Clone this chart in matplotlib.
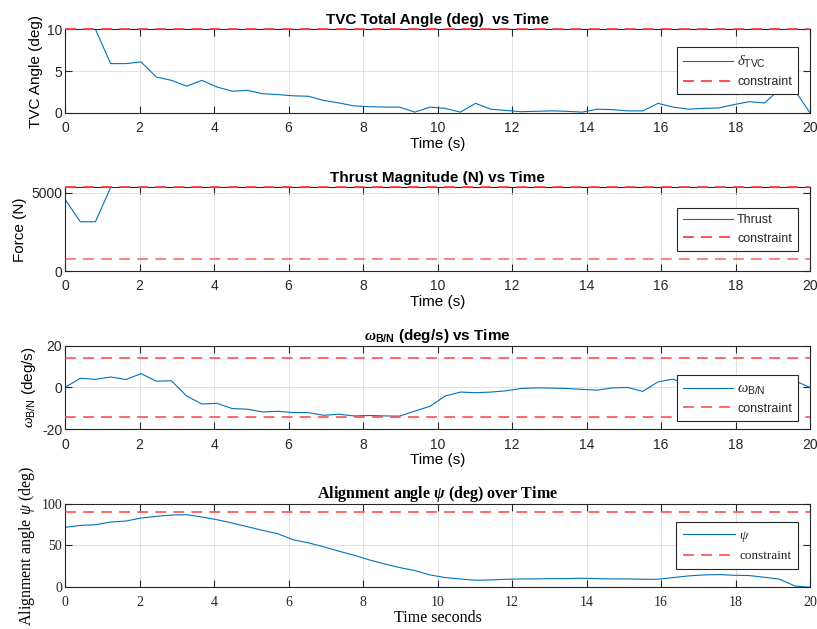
import numpy as np
import matplotlib
matplotlib.use('Agg')
from matplotlib import pyplot as plt

# time grid: 50 nodes over 20 s
t = np.linspace(0, 20, 50)

tvc_angle = [10, 10, 10, 5.9, 5.9, 6.1, 4.3, 3.9, 3.2, 3.9,
             3.1, 2.6, 2.7, 2.3, 2.2, 2.05, 2.0, 1.5, 1.2, 0.85,
             0.75, 0.7, 0.7, 0.1, 0.7, 0.55, 0.1, 1.15, 0.45, 0.3,
             0.15, 0.2, 0.25, 0.2, 0.1, 0.45, 0.4, 0.25, 0.25, 1.15,
             0.7, 0.45, 0.55, 0.6, 1.0, 1.35, 1.2, 2.8, 2.7, 0.0]
tvc_max = 10

thrust_max = 5340
thrust_min = 780
thrust = [4580, 3150, 3150] + [thrust_max] * 47

omega = [0.0, 4.4, 3.9, 5.0, 3.8, 6.6, 3.0, 3.2, -4.1, -7.9,
         -7.6, -10.1, -10.4, -11.7, -11.4, -12.0, -12.0, -13.3, -12.8, -13.6,
         -13.4, -13.6, -13.7, -11.3, -9.0, -4.1, -2.2, -2.5, -2.2, -1.6,
         -0.5, -0.2, -0.3, -0.5, -0.9, -1.3, -0.2, 0.0, -1.9, 2.7,
         4.0, 0.8, 1.5, 2.0, 2.5, 3.0, 3.5, 3.8, 3.2, 0.0]
omega_max = 14

psi = [71.6, 74.0, 74.8, 78.0, 79.2, 82.8, 84.8, 86.4, 86.8, 84.0,
       80.8, 76.8, 72.4, 68.0, 64.0, 56.8, 53.2, 48.4, 43.2, 38.4,
       32.8, 28.0, 23.6, 20.0, 14.8, 11.6, 10.0, 8.4, 8.8, 9.6,
       10.0, 10.0, 10.4, 10.4, 10.8, 10.4, 10.0, 10.0, 9.6, 9.6,
       11.6, 13.6, 14.8, 15.2, 14.4, 14.0, 12.0, 9.6, 1.6, 0.0]
psi_max = 89.5

# MATLAB-ish look
DARK = '#262626'
BLUE = '#0072BD'
RED = '#ff4040'
plt.rcParams.update({
    'font.family': 'Liberation Sans',
    'mathtext.fontset': 'custom',
    'mathtext.rm': 'Liberation Sans',
    'mathtext.sf': 'Liberation Sans',
    'mathtext.it': 'Liberation Serif:italic',
    'mathtext.bf': 'Liberation Sans:bold',
    'mathtext.bfit': 'Liberation Serif:italic:bold',
    'axes.unicode_minus': False,
    'axes.edgecolor': DARK,
    'axes.linewidth': 0.8,
    'xtick.color': DARK,
    'ytick.color': DARK,
    'text.color': DARK,
})

fig = plt.figure(figsize=(8.17, 6.29), dpi=100)
left, width, height = 0.0796, 0.9119, 0.133
bottoms = [0.8204, 0.5690, 0.3175, 0.0663]
axes = [fig.add_axes([left, b, width, height]) for b in bottoms]


def style(ax, ylim, yticks, serif=False):
    ax.set_xlim(0, 20)
    ax.set_ylim(*ylim)
    ax.set_xticks(np.arange(0, 21, 2))
    ax.set_yticks(yticks)
    ax.grid(True, color='#dcdcdc', linewidth=0.6)
    ax.set_axisbelow(True)
    ax.tick_params(direction='in', length=5, width=0.8, top=True, right=True,
                   labelsize=10)
    ax.tick_params(axis='x', pad=6)
    ax.tick_params(axis='y', pad=2)
    if serif:
        for lab in ax.get_xticklabels() + ax.get_yticklabels():
            lab.set_family('Liberation Serif')


def add_legend(ax, y, serif=False):
    kw = dict(loc='center right', bbox_to_anchor=(0.984, y), fancybox=False,
              framealpha=1, edgecolor=DARK, handlelength=4.0, borderaxespad=0,
              handletextpad=0.3, borderpad=0.5, labelspacing=0.5)
    if serif:
        kw['prop'] = {'family': 'Liberation Serif', 'size': 9.5}
    else:
        kw['fontsize'] = 9
    leg = ax.legend(**kw)
    leg.get_frame().set_linewidth(0.8)
    return leg


# TVC angle
ax = axes[0]
style(ax, (0, 10), [0, 5, 10])
ax.plot(t, tvc_angle, color=BLUE, lw=0.8, label=r'$\delta_{\mathrm{TVC}}$')
ax.axhline(tvc_max, color=RED, ls='--', dashes=(6, 4), lw=1.3, clip_on=False,
           zorder=3, label='constraint')
ax.set_title('TVC Total Angle (deg)  vs Time', fontsize=11, fontweight='bold',
             color='black', pad=4)
ax.set_xlabel('Time (s)', fontsize=11, labelpad=1)
ax.set_ylabel('TVC Angle (deg)', fontsize=11, labelpad=3)
leg = add_legend(ax, 0.503)
leg.get_texts()[0].set_fontsize(10.5)

# Thrust
ax = axes[1]
style(ax, (0, thrust_max), [0, 5000])
ax.plot(t, thrust, color=BLUE, lw=0.8, label='Thrust')
ax.axhline(thrust_max, color=RED, ls='--', dashes=(6, 4), lw=1.3, clip_on=False,
           zorder=3, label='constraint')
ax.axhline(thrust_min, color=RED, ls='--', dashes=(6, 4), lw=1.3, alpha=0.7,
           zorder=3)
ax.set_title('Thrust Magnitude (N) vs Time', fontsize=11, fontweight='bold',
             color='black', pad=4)
ax.set_xlabel('Time (s)', fontsize=11, labelpad=1)
ax.set_ylabel('Force (N)', fontsize=11, labelpad=3)
add_legend(ax, 0.496)

# Angular rate
ax = axes[2]
style(ax, (-20, 20), [-20, 0, 20])
ax.plot(t, omega, color=BLUE, lw=0.8, label=r'$\omega_{\mathrm{B/N}}$')
ax.axhline(omega_max, color=RED, ls='--', dashes=(6, 4), lw=1.3, alpha=0.85,
           zorder=3, label='constraint')
ax.axhline(-omega_max, color=RED, ls='--', dashes=(6, 4), lw=1.3, alpha=0.85,
           zorder=3)
ax.set_title(r'$\mathbfit{\omega}_{\mathbf{B/N}}$ (deg/s) vs Time', fontsize=11,
             fontweight='bold', color='black', pad=4)
ax.set_xlabel('Time (s)', fontsize=11, labelpad=1)
ax.set_ylabel(r'$\omega_{\mathrm{B/N}}$ (deg/s)', fontsize=11, labelpad=3)
leg = add_legend(ax, 0.373)
leg.get_texts()[0].set_fontsize(10.5)

# Alignment angle
ax = axes[3]
style(ax, (0, 100), [0, 50, 100], serif=True)
ax.plot(t, psi, color=BLUE, lw=0.8, label=r'$\psi$')
ax.axhline(psi_max, color=RED, ls='--', dashes=(6, 4), lw=1.3, alpha=0.85,
           zorder=3, label='constraint')
ax.set_title(r'Alignment angle $\mathbfit{\psi}$ (deg) over Time', fontsize=11.5,
             fontweight='bold', family='Liberation Serif', color='black', pad=4)
ax.set_xlabel('Time seconds', fontsize=11.5, family='Liberation Serif', labelpad=1)
ax.set_ylabel(r'Alignment angle $\psi$ (deg)', fontsize=11.5,
              family='Liberation Serif', labelpad=3)
add_legend(ax, 0.5, serif=True)

fig.savefig('out.png', dpi=100)
